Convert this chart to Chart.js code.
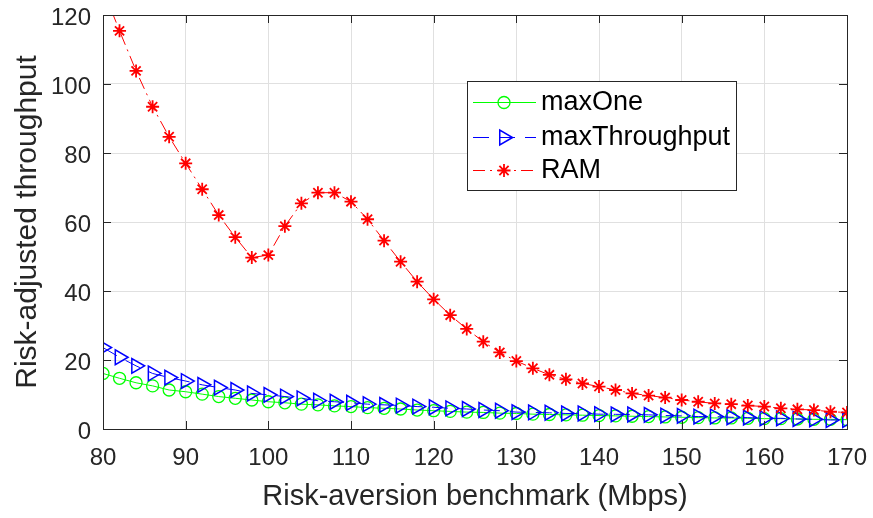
<!DOCTYPE html>
<html>
<head>
<meta charset="utf-8">
<script src="https://cdn.jsdelivr.net/npm/chart.js@4/dist/chart.umd.min.js"></script>
<style>
  html, body { margin: 0; padding: 0; background: #fff; }
  #chart { display: block; }
</style>
</head>
<body>
<canvas id="chart" width="873" height="518"></canvas>
<script>
// benchmark values (Mbps)
var benchmarks = [80, 82, 84, 86, 88, 90, 92, 94, 96, 98, 100, 102, 104, 106, 108, 110, 112, 114, 116, 118,
  120, 122, 124, 126, 128, 130, 132, 134, 136, 138, 140, 142, 144, 146, 148, 150, 152, 154, 156, 158,
  160, 162, 164, 166, 168, 170];

var maxOne = [16.1, 14.7, 13.4, 12.5, 11.3, 10.8, 10.1, 9.4, 8.9, 8.4, 7.9, 7.6, 7.2, 7.0, 6.7, 6.5, 6.2, 6.0, 5.8, 5.5,
  5.3, 5.1, 4.9, 4.8, 4.6, 4.5, 4.3, 4.2, 4.1, 4.0, 3.9, 3.8, 3.7, 3.6, 3.5, 3.4, 3.3, 3.2, 3.2, 3.1,
  3.0, 3.0, 2.9, 2.8, 2.8, 2.7];

var maxThroughput = [23.6, 20.8, 18.3, 16.1, 14.9, 13.9, 12.8, 12.0, 11.3, 10.3, 9.9, 9.4, 8.9, 8.2, 7.9, 7.6, 7.2, 7.0, 6.8, 6.5,
  6.3, 6.0, 5.8, 5.5, 5.3, 4.9, 4.8, 4.7, 4.5, 4.5, 4.3, 4.25, 4.2, 4.1, 3.9, 3.8, 3.6, 3.6, 3.4, 3.3,
  3.1, 3.1, 2.9, 2.8, 2.6, 2.6];

var ram = [127.5, 115.4, 103.8, 93.4, 84.7, 77.0, 69.5, 62.0, 55.6, 49.7, 50.4, 58.8, 65.4, 68.5, 68.5, 65.9, 60.8, 54.6, 48.5, 42.7,
  37.6, 33.0, 29.0, 25.3, 22.2, 19.7, 17.6, 15.7, 14.4, 13.2, 12.3, 11.3, 10.3, 9.7, 9.1, 8.4, 7.9, 7.4, 7.2, 6.8,
  6.5, 6.0, 5.7, 5.5, 5.0, 4.8];

var xTicks = [80, 90, 100, 110, 120, 130, 140, 150, 160, 170];
var yTicks = [0, 20, 40, 60, 80, 100, 120];

var fontName = "'Liberation Sans', Arial, Helvetica, sans-serif";
var axisColor = '#262626';

function pts(ys) {
  var out = [];
  for (var i = 0; i < benchmarks.length; i++) out.push({x: benchmarks[i], y: ys[i]});
  return out;
}

// MATLAB style box with inward ticks
var boxPlugin = {
  id: 'box',
  afterDatasetsDraw: function (chart) {
    var ctx = chart.ctx, a = chart.chartArea;
    var xs = chart.scales.x, ys = chart.scales.y;
    ctx.save();
    ctx.strokeStyle = axisColor;
    ctx.lineWidth = 1;
    ctx.setLineDash([]);
    ctx.strokeRect(Math.round(a.left) + 0.5, Math.round(a.top) + 0.5, Math.round(a.right - a.left), Math.round(a.bottom - a.top));
    ctx.beginPath();
    xTicks.forEach(function (v) {
      var px = Math.round(xs.getPixelForValue(v)) + 0.5;
      ctx.moveTo(px, a.bottom); ctx.lineTo(px, a.bottom - 8);
      ctx.moveTo(px, a.top); ctx.lineTo(px, a.top + 8);
    });
    yTicks.forEach(function (v) {
      var py = Math.round(ys.getPixelForValue(v)) + 0.5;
      ctx.moveTo(a.left, py); ctx.lineTo(a.left + 8, py);
      ctx.moveTo(a.right, py); ctx.lineTo(a.right - 8, py);
    });
    ctx.stroke();
    ctx.restore();
  }
};

// legend drawn inside the axes
var legendPlugin = {
  id: 'boxLegend',
  afterDraw: function (chart) {
    var ctx = chart.ctx, a = chart.chartArea;
    var lx = Math.round(a.left) + 364, ly = Math.round(a.top) + 66, lw = 269, lh = 109;
    ctx.save();
    ctx.fillStyle = '#fff';
    ctx.fillRect(lx, ly, lw, lh);
    ctx.strokeStyle = axisColor;
    ctx.lineWidth = 1;
    ctx.strokeRect(lx + 0.5, ly + 0.5, lw, lh);
    var rows = [21, 56, 89];
    chart.data.datasets.forEach(function (ds, i) {
      var y = ly + rows[i];
      ctx.strokeStyle = ds.borderColor;
      ctx.lineWidth = ds.borderWidth;
      ctx.setLineDash(ds.borderDash || []);
      ctx.beginPath();
      ctx.moveTo(lx + 6, y + 0.5);
      ctx.lineTo(lx + 69, y + 0.5);
      ctx.stroke();
      ctx.setLineDash([]);
      ctx.strokeStyle = ds.pointBorderColor;
      ctx.fillStyle = ds.pointBackgroundColor;
      ctx.lineWidth = ds.pointBorderWidth;
      Chart.helpers.drawPoint(ctx, {
        pointStyle: ds.pointStyle,
        rotation: ds.pointRotation || 0,
        radius: ds.pointRadius,
        borderWidth: ds.pointBorderWidth
      }, lx + 37, y + 0.5);
      ctx.fillStyle = '#000';
      ctx.font = '27px ' + fontName;
      ctx.textBaseline = 'middle';
      ctx.textAlign = 'left';
      ctx.fillText(ds.label, lx + 74, y + 1);
    });
    ctx.restore();
  }
};

var ctx = document.getElementById('chart');
var myChart = new Chart(ctx, {
  type: 'line',
  data: {
    datasets: [{
      label: 'maxOne',
      data: pts(maxOne),
      borderColor: '#00ff00',
      backgroundColor: 'rgba(0,0,0,0)',
      borderWidth: 1,
      pointStyle: 'circle',
      pointRadius: 6,
      pointBorderWidth: 1.3,
      pointBorderColor: '#00ff00',
      pointBackgroundColor: 'rgba(0,0,0,0)',
      order: 3
    }, {
      label: 'maxThroughput',
      data: pts(maxThroughput),
      borderColor: '#0000ff',
      backgroundColor: 'rgba(0,0,0,0)',
      borderWidth: 1,
      borderDash: [16, 10],
      pointStyle: 'triangle',
      pointRotation: 90,
      pointRadius: 8.5,
      pointBorderWidth: 1.5,
      pointBorderColor: '#0000ff',
      pointBackgroundColor: 'rgba(0,0,0,0)',
      order: 2
    }, {
      label: 'RAM',
      data: pts(ram),
      borderColor: '#ff0000',
      backgroundColor: 'rgba(0,0,0,0)',
      borderWidth: 1,
      borderDash: [12, 5, 2, 5],
      pointStyle: 'star',
      pointRadius: 6.5,
      pointBorderWidth: 1.8,
      pointBorderColor: '#ff0000',
      pointBackgroundColor: '#ff0000',
      order: 1
    }]
  },
  options: {
    responsive: false,
    animation: false,
    events: [],
    layout: { padding: { left: 0, right: 26, top: 15, bottom: 0 } },
    plugins: {
      legend: { display: false },
      tooltip: { enabled: false }
    },
    scales: {
      x: {
        type: 'linear',
        min: 80,
        max: 170,
        afterBuildTicks: function (axis) {
          axis.ticks = xTicks.map(function (v) { return {value: v}; });
        },
        afterFit: function (axis) {
          axis.height = 89;
          axis.paddingLeft = 0;
          axis.paddingRight = 0;
        },
        grid: { color: '#e0e0e0', drawTicks: false },
        border: { display: false },
        ticks: { color: axisColor, padding: 15, maxRotation: 0, font: { family: fontName, size: 24 } },
        title: {
          display: true,
          text: 'Risk-aversion benchmark (Mbps)',
          color: axisColor,
          padding: { top: 0, bottom: 4 },
          font: { family: fontName, size: 29 }
        }
      },
      y: {
        min: 0,
        max: 120,
        afterBuildTicks: function (axis) {
          axis.ticks = yTicks.map(function (v) { return {value: v}; });
        },
        afterFit: function (axis) {
          axis.width = 103;
          axis.paddingTop = 0;
          axis.paddingBottom = 0;
        },
        grid: { color: '#e0e0e0', drawTicks: false },
        border: { display: false },
        ticks: { color: axisColor, padding: 12, labelOffset: 3, font: { family: fontName, size: 24 } },
        title: {
          display: true,
          text: 'Risk-adjusted throughput',
          color: axisColor,
          padding: { top: 10, bottom: 0 },
          font: { family: fontName, size: 30 }
        }
      }
    }
  },
  plugins: [boxPlugin, legendPlugin]
});
</script>
</body>
</html>
